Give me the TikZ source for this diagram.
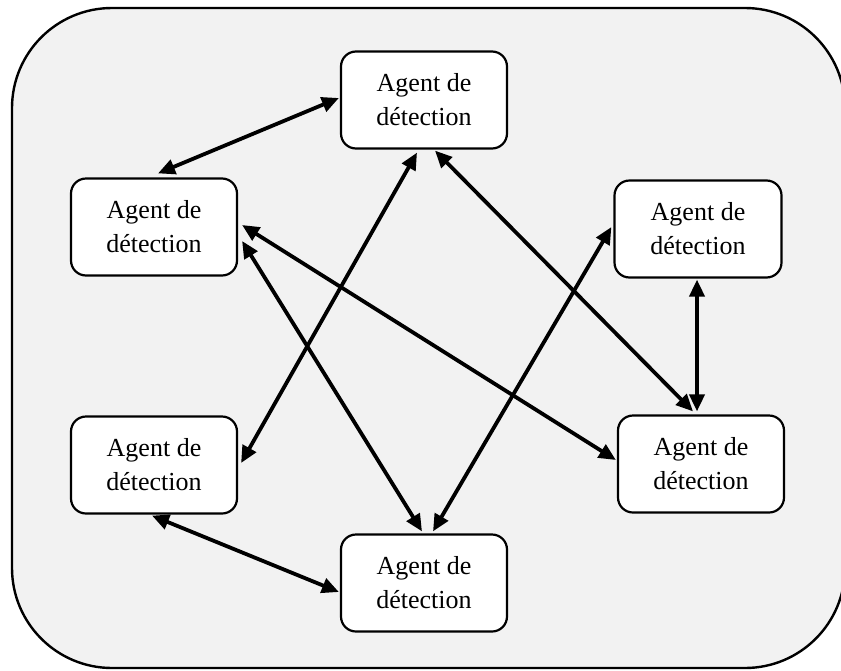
\documentclass[tikz,border=0pt]{standalone}
\usepackage{fontspec}
\setmainfont{Liberation Serif}
\usetikzlibrary{arrows.meta,calc}

\tikzset{
  agent/.style={draw, line width=2.2pt, fill=white, rounded corners=15pt,
    minimum width=166pt, minimum height=97pt, inner sep=0pt, align=center,
    font=\fontsize{26}{34}\selectfont},
  link/.style={line width=3.8pt, {Triangle[length=17pt,width=15pt]}-{Triangle[length=17pt,width=15pt]}},
  frame/.style={draw, line width=2.4pt, fill=black!5, rounded corners=100pt}
}

\begin{document}
\begin{tikzpicture}[x=1pt, y=-1pt]
  \useasboundingbox (0,0) rectangle (841,670);
  \clip (0,0) rectangle (841,670);

  % surrounding panel
  \draw[frame] (12,8) rectangle (845,668);

  % detection agents
  \node[agent] (top) at (424,100) {Agent de\\détection};
  \node[agent] (lu)  at (154,227) {Agent de\\détection};
  \node[agent, minimum width=167pt] (ru)  at (698,229) {Agent de\\détection};
  \node[agent] (ll)  at (154,465) {Agent de\\détection};
  \node[agent] (bot) at (424,583) {Agent de\\détection};
  \node[agent] (rl)  at (701,464) {Agent de\\détection};

  % communication links
  \draw[link] ($(top.west)+(-1,-2)$) -- ($(lu.north)+(4,-4)$);
  \draw[link] ($(top.south)+(-7,3)$) -- ($(ll.east)+(3,-2)$);
  \draw[link] ($(lu.east)+(4,14)$) -- ($(bot.north)+(-2,-2)$);
  \draw[link] ($(lu.east)+(4,-2)$) -- ($(rl.west)+(-1,-4)$);
  \draw[link] ($(top.south)+(11,1)$) -- ($(rl.north)+(-8,-3)$);
  \draw[link] ($(ru.west)+(-2,-2)$) -- ($(bot.north)+(9,-2)$);
  \draw[link] ($(ru.south)+(-1,1)$) -- ($(rl.north)+(-4,-3)$);
  \draw[link] ($(ll.south)+(-2,1)$) -- ($(bot.west)+(-1,9)$);
\end{tikzpicture}
\end{document}
